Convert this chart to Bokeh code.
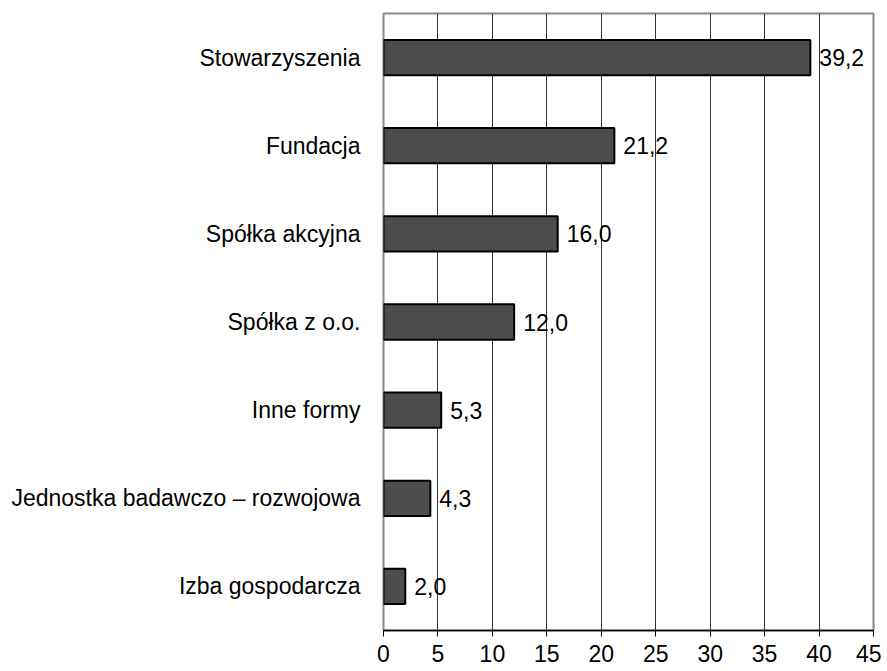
from bokeh.plotting import figure
from bokeh.models import ColumnDataSource, FactorRange, Range1d, FixedTicker
from bokeh.core.properties import value
from bokeh.embed import file_html
from bokeh.resources import INLINE

categories = ["Stowarzyszenia", "Fundacja", "Spółka akcyjna", "Spółka z o.o.",
              "Inne formy", "Jednostka badawczo – rozwojowa", "Izba gospodarcza"]
values = [39.2, 21.2, 16.0, 12.0, 5.3, 4.3, 2.0]
x_ticks = [0, 5, 10, 15, 20, 25, 30, 35, 40, 45]

labels = [f"{v:.1f}".replace(".", ",") for v in values]
src = ColumnDataSource(dict(cat=categories, val=values, lab=labels))

FONT = "Liberation Sans"
FS = "23px"

p = figure(y_range=FactorRange(*reversed(categories), range_padding=0),
           x_range=Range1d(0, 45),
           width=881, height=671, frame_width=490, frame_height=617,
           min_border_left=383, min_border_top=13, min_border_right=8, min_border_bottom=0,
           output_backend="svg", toolbar_location=None)

p.hbar(y="cat", right="val", left=0, height=0.4, source=src,
       fill_color="#4d4d4d", line_color="black", line_width=2)
p.text(x="val", y="cat", text="lab", source=src, x_offset=9,
       text_align="left", text_baseline="middle",
       text_font=value(FONT), text_font_size=FS, text_color="black")

p.xaxis.ticker = FixedTicker(ticks=x_ticks)
p.xaxis.major_label_text_font = FONT
p.xaxis.major_label_text_font_size = FS
p.xaxis.major_label_text_color = "black"
p.xaxis.axis_line_color = "black"
p.xaxis.axis_line_width = 1.5
p.xaxis.major_tick_line_color = "black"
p.xaxis.major_tick_in = 0
p.xaxis.major_tick_out = 6
p.xaxis.minor_tick_line_color = None
p.xaxis.major_label_standoff = 8

p.yaxis.major_label_text_font = FONT
p.yaxis.major_label_text_font_size = FS
p.yaxis.major_label_text_color = "black"
p.yaxis.axis_line_color = None
p.yaxis.major_tick_line_color = None
p.yaxis.minor_tick_line_color = None
p.yaxis.major_label_standoff = 17

p.xgrid.grid_line_color = "#333333"
p.xgrid.grid_line_width = 1
p.ygrid.grid_line_color = None

p.outline_line_color = "#888888"
p.outline_line_width = 2
p.background_fill_color = "white"
p.border_fill_color = "white"

open("out.html", "w").write(file_html(p, INLINE))
